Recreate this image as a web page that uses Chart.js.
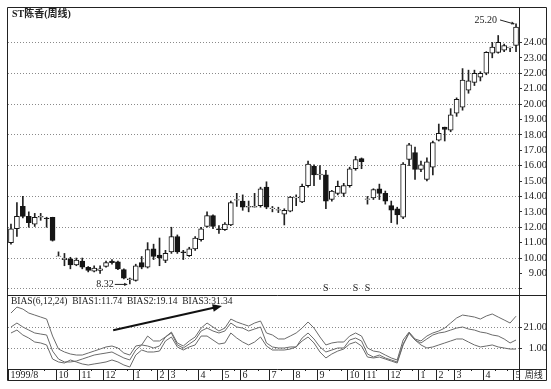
<!DOCTYPE html>
<html>
<head>
<meta charset="utf-8">
<script src="https://cdn.jsdelivr.net/npm/chart.js@4.4.0/dist/chart.umd.min.js"></script>
<style>
  html, body { margin: 0; padding: 0; background: #fff; }
</style>
</head>
<body>
<canvas id="chart" width="551" height="389"></canvas>
<script>
// weekly candles, 1999/8 .. 2001/5
const openP  = [11.0, 11.9, 13.35, 12.7, 12.2, 12.65, 12.6, 12.65, 10.1, 9.9,
                9.95, 9.55, 9.8, 9.4, 9.15, 9.2, 9.45, 9.8, 9.75, 9.25,
                8.6, 8.55, 9.7, 9.4, 10.6, 10.2, 9.85, 10.4, 11.4, 10.4,
                10.15, 10.6, 11.2, 12.05, 12.75, 11.9, 11.85, 12.15, 13.75, 13.7,
                13.3, 13.3, 13.4, 14.6, 13.2, 13.1, 12.85, 13.05, 13.9, 13.65,
                14.7, 15.95, 15.4, 15.4, 13.8, 14.2, 14.2, 14.7, 15.8, 16.45,
                13.8, 13.9, 14.5, 14.2, 13.4, 13.2, 12.65, 16.4, 16.85, 15.75,
                15.1, 15.9, 17.65, 18.5, 18.3, 19.4, 19.8, 20.9, 21.4, 21.75,
                22.0, 23.3, 23.35, 23.5, 23.65, 23.8];
const closeP = [11.9, 12.7, 12.7, 12.3, 12.65, 12.7, 12.55, 11.15, 10.12, 10.0,
                9.55, 9.87, 9.4, 9.2, 9.35, 9.3, 9.7, 9.7, 9.3, 8.7,
                8.65, 9.5, 9.4, 10.55, 10.1, 10.0, 10.3, 11.4, 10.4, 10.35,
                10.6, 11.3, 11.9, 12.75, 12.05, 11.85, 12.2, 13.6, 13.8, 13.3,
                13.35, 13.35, 14.5, 13.3, 13.25, 13.15, 13.1, 13.95, 13.95, 14.65,
                16.1, 15.4, 15.45, 13.7, 14.35, 14.65, 14.7, 15.8, 16.4, 16.25,
                13.85, 14.45, 14.2, 13.7, 13.1, 12.8, 16.1, 17.35, 15.75, 16.05,
                16.25, 17.5, 18.1, 18.35, 19.3, 20.3, 21.55, 21.5, 22.0, 22.0,
                23.35, 23.7, 24.0, 23.8, 23.7, 25.0];
const highP  = [12.2, 13.6, 14.0, 13.0, 12.9, 12.9, 12.65, 12.65, 10.4, 10.3,
                10.05, 10.0, 10.0, 9.45, 9.5, 9.5, 9.8, 9.9, 9.8, 9.3,
                8.7, 9.6, 10.1, 11.0, 10.9, 11.3, 10.5, 12.0, 11.5, 10.5,
                10.7, 11.4, 12.0, 13.0, 12.8, 12.1, 12.3, 13.7, 14.2, 14.1,
                13.7, 14.2, 14.6, 14.95, 13.35, 13.3, 13.2, 14.0, 14.1, 14.8,
                16.3, 16.05, 16.0, 15.7, 14.4, 15.0, 14.85, 15.9, 16.6, 16.5,
                14.0, 14.5, 14.8, 14.35, 13.7, 13.3, 16.2, 17.45, 17.2, 16.3,
                16.5, 17.6, 18.7, 18.5, 19.7, 20.4, 22.3, 22.2, 22.2, 22.1,
                23.4, 24.0, 24.45, 23.9, 23.7, 25.2];
const lowP   = [10.9, 11.4, 12.6, 12.0, 12.05, 12.45, 12.0, 11.1, 10.1, 9.5,
                9.3, 9.5, 9.3, 9.1, 9.1, 9.0, 9.4, 9.6, 9.25, 8.65,
                8.32, 8.5, 9.3, 9.35, 9.9, 9.5, 9.7, 10.3, 10.3, 9.9,
                10.1, 10.5, 11.1, 12.0, 11.9, 11.6, 11.8, 12.1, 13.35, 13.1,
                13.0, 13.3, 13.3, 13.2, 13.0, 12.95, 12.15, 13.0, 13.4, 13.6,
                14.6, 14.7, 15.1, 13.2, 13.7, 14.1, 14.0, 14.6, 15.7, 15.8,
                13.5, 13.8, 13.8, 13.5, 12.3, 12.2, 12.55, 16.0, 15.1, 15.6,
                15.0, 15.4, 17.6, 17.6, 18.2, 19.2, 19.6, 20.7, 21.2, 21.5,
                21.9, 23.0, 23.3, 23.4, 23.4, 23.4];

// BIAS(6,12,24)
const bias1 = [15.3, 18.1, 13.4, 10.5, 6.7, 5.8, 3.9, -9.5, -12.3, -13.3,
               -10.4, -12.3, -14.2, -15.2, -14.2, -13.3, -12.3, -10.4, -12.3, -15.2,
               -17.1, -5.7, -0.9, -2.8, -2.8, -1.9, 7.7, 11.5, 2.0, -0.9,
               2.0, 3.9, 12.4, 12.4, 8.6, 4.8, 5.8, 15.3, 10.5, 6.7,
               3.9, 6.7, 11.5, 2.9, -0.9, -0.9, -0.9, 0.0, 2.0, 7.7,
               11.5, 5.8, -2.8, -8.5, -4.7, -1.9, 0.0, 4.8, 6.7, 2.9,
               -7.6, -8.5, -7.6, -9.5, -11.4, -13.3, 3.9, 15.3, 8.6, 3.9,
               1.0, 2.0, 3.9, 5.8, 7.7, 9.6, 9.6, 6.7, 3.9, 2.0,
               2.9, 3.9, 2.0, 1.0, 0.0, 0.0];
const bias2 = [21.0, 24.8, 21.0, 18.1, 15.3, 14.3, 13.4, -1.9, -9.5, -12.3,
               -12.3, -11.4, -9.5, -7.6, -5.7, -4.7, -3.8, -2.8, -5.7, -8.5,
               -10.4, -0.9, 3.9, 2.9, 1.0, 2.9, 11.5, 15.3, 3.9, 1.0,
               4.8, 8.6, 17.2, 20.0, 17.2, 15.3, 17.2, 24.8, 21.0, 20.0,
               17.2, 19.1, 21.0, 5.8, 2.0, 1.0, 1.0, 2.0, 2.0, 10.5,
               15.3, 9.6, 2.0, -2.8, -0.9, 1.0, 1.0, 8.6, 10.5, 7.7,
               -4.7, -7.6, -5.7, -8.5, -10.4, -12.3, 4.8, 15.3, 8.6, 5.8,
               9.6, 13.4, 15.3, 16.2, 18.1, 20.0, 21.0, 19.1, 18.1, 16.2,
               15.3, 13.4, 12.4, 9.6, 5.8, 8.6];
const bias3 = [34.3, 40.0, 38.1, 34.3, 32.4, 30.5, 28.6, 12.4, 0.0, -2.8,
               -4.7, -5.7, -5.7, -3.8, -1.9, 0.0, 2.0, 2.9, 1.0, -3.8,
               -5.7, 2.9, 3.9, 12.4, 7.7, 7.7, 11.5, 16.2, 5.8, 2.9,
               7.7, 11.5, 20.0, 24.8, 21.0, 17.2, 20.0, 28.6, 25.8, 23.8,
               21.9, 24.8, 26.7, 15.3, 13.4, 9.6, 9.6, 12.4, 15.3, 20.0,
               25.8, 20.0, 11.5, 3.9, 5.8, 6.7, 6.7, 12.4, 15.3, 12.4,
               1.0, -1.9, -2.8, -5.7, -8.5, -10.4, 8.6, 16.2, 9.6, 7.7,
               12.4, 15.3, 17.2, 20.0, 24.8, 29.6, 32.4, 31.5, 30.5, 28.6,
               31.5, 33.4, 30.5, 27.7, 24.8, 31.3];

// month marks on the date row
const monthIdx  = [0, 8, 12, 16, 21, 25, 27, 32, 36, 39, 44, 48, 52, 57, 60, 64, 69, 72, 75, 80, 85];
const monthText = ['1999/8', '10', '11', '12', '1', '2', '3', '4', '5', '6', '7',
                   '8', '9', '10', '11', '12', '1', '2', '3', '4', '5'];
const priceTicks = [8, 9, 10, 11, 12, 13, 14, 15, 16, 17, 18, 19, 20, 21, 22, 23, 24];
const biasTicks = [1, 21];
const exRightIdx = [53, 58, 60];

const SERIF = '"Liberation Serif", "DejaVu Serif", serif';
const CJK = '"Liberation Serif", "Noto Sans CJK SC", serif';

const weekLabels = openP.map((_, i) => {
    const k = monthIdx.indexOf(i);
    return k >= 0 ? monthText[k] : '';
});

function arrowHead(ctx, x1, y1, x2, y2, size) {
    const ang = Math.atan2(y2 - y1, x2 - x1);
    ctx.beginPath();
    ctx.moveTo(x2, y2);
    ctx.lineTo(x2 - size * Math.cos(ang - 0.4), y2 - size * Math.sin(ang - 0.4));
    ctx.lineTo(x2 - size * Math.cos(ang + 0.4), y2 - size * Math.sin(ang + 0.4));
    ctx.closePath();
    ctx.fill();
}

const overlay = {
    id: 'overlay',
    afterDraw(chart) {
        const ctx = chart.ctx;
        const a = chart.chartArea;
        const xs = chart.scales.x, ys = chart.scales.y, y2 = chart.scales.y2;
        const right = ys.right - 0.5;
        const rowBottom = a.bottom + 11;
        ctx.save();
        ctx.strokeStyle = '#222';
        ctx.fillStyle = '#222';
        ctx.lineWidth = 1;

        // frame and panel separators
        ctx.beginPath();
        ctx.rect(a.left - 0.5, a.top + 0.5, right - a.left + 0.5, rowBottom - a.top);
        ctx.moveTo(a.right + 0.5, a.top);
        ctx.lineTo(a.right + 0.5, rowBottom);
        ctx.moveTo(a.left, Math.round(ys.bottom) + 0.5);
        ctx.lineTo(right, Math.round(ys.bottom) + 0.5);
        ctx.moveTo(a.left, a.bottom + 0.5);
        ctx.lineTo(right, a.bottom + 0.5);
        ctx.stroke();

        // date row
        ctx.font = '10px ' + SERIF;
        ctx.textBaseline = 'middle';
        ctx.textAlign = 'left';
        weekLabels.forEach((lab, i) => {
            const px = Math.round(xs.getPixelForValue(i) - 3) + 0.5;
            ctx.beginPath();
            if (lab) {
                ctx.moveTo(px, a.bottom);
                ctx.lineTo(px, rowBottom);
                ctx.stroke();
                ctx.fillText(lab, px + 2, a.bottom + 6);
            } else if (i % 2 === 0) {
                ctx.moveTo(px, a.bottom);
                ctx.lineTo(px, a.bottom + 2);
                ctx.stroke();
            }
        });
        ctx.font = '9px "Noto Sans CJK SC", sans-serif';
        ctx.textAlign = 'center';
        ctx.fillText('周线', (a.right + right) / 2 + 1, a.bottom + 6);

        // title
        ctx.textAlign = 'left';
        ctx.font = 'bold 10px ' + CJK;
        ctx.fillText('ST陈香(周线)', 12, 14);

        // indicator caption
        ctx.font = '9.5px ' + SERIF;
        ctx.textBaseline = 'top';
        ctx.fillText('BIAS(6,12,24)  BIAS1:11.74  BIAS2:19.14  BIAS3:31.34', 11, ys.bottom + 2);

        // high / low notes
        ctx.textBaseline = 'middle';
        ctx.font = '10px ' + SERIF;
        const iHi = highP.indexOf(Math.max(...highP));
        const iLo = lowP.indexOf(Math.min(...lowP));
        let px = xs.getPixelForValue(iHi), py = ys.getPixelForValue(highP[iHi]);
        ctx.textAlign = 'right';
        ctx.fillText(highP[iHi].toFixed(2), px - 19, py - 4);
        ctx.beginPath();
        ctx.moveTo(px - 16, py - 4);
        ctx.lineTo(px - 2, py);
        ctx.stroke();
        arrowHead(ctx, px - 16, py - 4, px - 1, py, 4);

        px = xs.getPixelForValue(iLo); py = ys.getPixelForValue(lowP[iLo]);
        ctx.fillText(lowP[iLo].toFixed(2), px - 16, py);
        ctx.beginPath();
        ctx.moveTo(px - 15, py + 0.5);
        ctx.lineTo(px - 3, py + 0.5);
        ctx.stroke();
        arrowHead(ctx, px - 15, py + 0.5, px - 2, py + 0.5, 4);

        // ex-rights marks
        ctx.textAlign = 'center';
        ctx.font = '10px ' + SERIF;
        exRightIdx.forEach(i => {
            ctx.fillText('S', xs.getPixelForValue(i), ys.getPixelForValue(8.05));
        });

        // trend arrow in the BIAS panel
        const ax1 = xs.getPixelForValue(17.2), ay1 = y2.getPixelForValue(18);
        const ax2 = xs.getPixelForValue(35.5), ay2 = y2.getPixelForValue(41);
        ctx.lineWidth = 2;
        ctx.fillStyle = '#111';
        ctx.strokeStyle = '#111';
        ctx.beginPath();
        ctx.moveTo(ax1, ay1);
        ctx.lineTo(ax2 - 6, ay2 + 1.3);
        ctx.stroke();
        arrowHead(ctx, ax1, ay1, ax2, ay2, 10);
        ctx.restore();
    }
};

const candleBodies = openP.map((o, i) => [o, closeP[i]]);
const candleWicks = lowP.map((l, i) => [l, highP[i]]);
const bodyColors = openP.map((o, i) => closeP[i] >= o ? '#ffffff' : '#151515');

new Chart(document.getElementById('chart'), {
    type: 'bar',
    data: {
        labels: weekLabels,
        datasets: [
            {
                data: candleBodies,
                yAxisID: 'y',
                backgroundColor: bodyColors,
                borderColor: '#151515',
                borderWidth: 1,
                borderSkipped: false,
                barThickness: 5,
                grouped: false,
                order: 0
            },
            {
                data: candleWicks,
                yAxisID: 'y',
                backgroundColor: '#222',
                barThickness: 1,
                grouped: false,
                order: 1
            },
            { type: 'line', data: bias1, yAxisID: 'y2', borderColor: '#6a6a6a', borderWidth: 1, pointRadius: 0, order: 2 },
            { type: 'line', data: bias2, yAxisID: 'y2', borderColor: '#6a6a6a', borderWidth: 1, pointRadius: 0, order: 2 },
            { type: 'line', data: bias3, yAxisID: 'y2', borderColor: '#6a6a6a', borderWidth: 1, pointRadius: 0, order: 2 }
        ]
    },
    options: {
        responsive: false,
        animation: false,
        layout: { padding: { left: 8, top: 7, right: 4, bottom: 9 } },
        plugins: { legend: { display: false }, tooltip: { enabled: false } },
        scales: {
            x: {
                type: 'category',
                offset: true,
                grid: { display: false },
                border: { display: false },
                ticks: { display: false },
                afterFit: s => { s.height = 11; }
            },
            y: {
                position: 'right',
                stack: 'panels',
                stackWeight: 288,
                min: 7.6,
                max: 26.3,
                afterBuildTicks: s => { s.ticks = priceTicks.map(v => ({ value: v })); },
                afterFit: s => { s.width = 28; },
                border: { display: false, dash: [1, 2] },
                grid: {
                    color: c => (c.tick && c.tick.value % 2 === 0) ? '#8a8a8a' : 'rgba(0,0,0,0)',
                    tickColor: '#333',
                    tickLength: 3,
                    tickBorderDash: []
                },
                ticks: {
                    autoSkip: false,
                    padding: 0,
                    crossAlign: 'far',
                    color: '#222',
                    font: { family: SERIF, size: 10.5 },
                    callback: v => v === 8 ? '' : v.toFixed(2)
                }
            },
            y2: {
                position: 'right',
                stack: 'panels',
                stackWeight: 74,
                min: -19,
                max: 51.5,
                afterBuildTicks: s => { s.ticks = biasTicks.map(v => ({ value: v })); },
                afterFit: s => { s.width = 28; },
                border: { display: false, dash: [1, 2] },
                grid: {
                    color: '#8a8a8a',
                    tickColor: '#333',
                    tickLength: 3,
                    tickBorderDash: []
                },
                ticks: {
                    autoSkip: false,
                    padding: 0,
                    crossAlign: 'far',
                    color: '#222',
                    font: { family: SERIF, size: 10.5 },
                    callback: v => v.toFixed(2)
                }
            }
        }
    },
    plugins: [overlay]
});
</script>
</body>
</html>
